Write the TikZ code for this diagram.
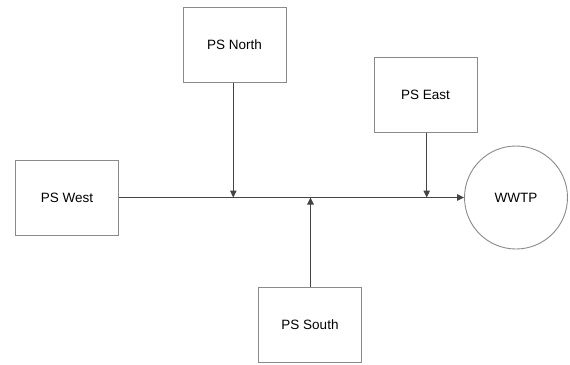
\documentclass[tikz,border=0pt]{standalone}
\usepackage{fontspec}
\setmainfont{Liberation Sans}
\usetikzlibrary{arrows.meta}
\begin{document}
\begin{tikzpicture}[x=1pt,y=-1pt,
  box/.style={draw=boxgray,line width=0.9pt,minimum width=103pt,minimum height=75pt,inner sep=0pt,font=\fontsize{13.5}{16}\selectfont,text=black},
  plant/.style={draw=boxgray,line width=0.9pt,circle,minimum size=103pt,inner sep=0pt,font=\fontsize{13.5}{16}\selectfont},
  flow/.style={draw=linegray,line width=1pt,-{Triangle[length=7pt,width=6.5pt]}}]
\definecolor{boxgray}{HTML}{8A8A8A}
\definecolor{linegray}{HTML}{444444}
\useasboundingbox (0,0) rectangle (570,364);
\node[box] (north) at (234.5,45) {PS North};
\node[box] (east) at (425.5,95) {PS East};
\node[box] (west) at (67,197.5) {PS West};
\node[box] (south) at (310,325) {PS South};
\node[plant] (wwtp) at (516,197.5) {WWTP};
\coordinate (jn) at (233.3,197.5);
\coordinate (je) at (426.7,197.5);
\coordinate (js) at (310.5,197.5);
\draw[flow] (west.east) -- (wwtp.west);
\draw[flow] (north.south -| jn) -- (jn);
\draw[flow] (east.south -| je) -- (je);
\draw[flow] (south.north -| js) -- (js);
\end{tikzpicture}
\end{document}
